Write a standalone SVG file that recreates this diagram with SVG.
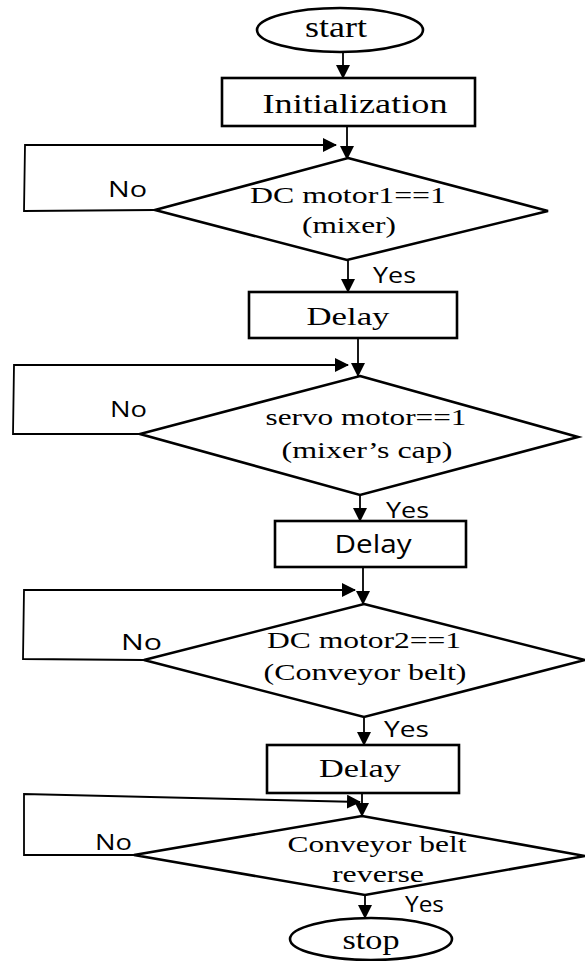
<svg xmlns="http://www.w3.org/2000/svg" width="585" height="961" viewBox="0 0 585 961">
<style>
.sh{fill:#fff;stroke:#000;stroke-width:2.6}
.ln{fill:none;stroke:#000;stroke-width:1.8}
.t{font-family:"Liberation Serif","Times New Roman",serif;fill:#000;text-anchor:middle}
.s{font-family:"Open Sans","Liberation Sans",sans-serif;fill:#000}
</style>
<defs>
<marker id="ah" markerUnits="userSpaceOnUse" markerWidth="14" markerHeight="14" refX="13" refY="7" orient="auto">
<path d="M0,0 L14,7 L0,14 Z" fill="#000"/>
</marker>
</defs>
<rect width="585" height="961" fill="#fff"/>
<g id="connectors">
<line class="ln" x1="343" y1="52" x2="343" y2="78" marker-end="url(#ah)"/>
<line class="ln" x1="347" y1="126" x2="347" y2="159" marker-end="url(#ah)"/>
<polyline class="ln" points="155,210 24,211 25,145 336,145" marker-end="url(#ah)"/>
<line class="ln" x1="348" y1="260" x2="348" y2="292" marker-end="url(#ah)"/>
<line class="ln" x1="358" y1="338" x2="358" y2="376" marker-end="url(#ah)"/>
<polyline class="ln" points="140,434 13,434 14,365 348,365" marker-end="url(#ah)"/>
<line class="ln" x1="360" y1="495" x2="360" y2="521" marker-end="url(#ah)"/>
<line class="ln" x1="363" y1="567" x2="363" y2="604" marker-end="url(#ah)"/>
<polyline class="ln" points="144,660 23,659 24,590 355,590" marker-end="url(#ah)"/>
<line class="ln" x1="364" y1="717" x2="364" y2="745" marker-end="url(#ah)"/>
<line class="ln" x1="362" y1="793" x2="362" y2="816" marker-end="url(#ah)"/>
<polyline class="ln" points="134,855 24,855 24,794 360,802" marker-end="url(#ah)"/>
<line class="ln" x1="365" y1="895" x2="365" y2="918" marker-end="url(#ah)"/>
<text class="s" x="108" y="197" font-size="22" textLength="39" lengthAdjust="spacingAndGlyphs">No</text>
<text class="s" x="373" y="283" font-size="22" textLength="43" lengthAdjust="spacingAndGlyphs">Yes</text>
<text class="s" x="110" y="417" font-size="22" textLength="37" lengthAdjust="spacingAndGlyphs">No</text>
<text class="s" x="386" y="518" font-size="22" textLength="43" lengthAdjust="spacingAndGlyphs">Yes</text>
<text class="s" x="121" y="650" font-size="22" textLength="41" lengthAdjust="spacingAndGlyphs">No</text>
<text class="s" x="384" y="737" font-size="22" textLength="45" lengthAdjust="spacingAndGlyphs">Yes</text>
<text class="s" x="95" y="850" font-size="22" textLength="37" lengthAdjust="spacingAndGlyphs">No</text>
<text class="s" x="405" y="912" font-size="22" textLength="39" lengthAdjust="spacingAndGlyphs">Yes</text>
</g>
<g id="start">
<ellipse class="sh" cx="340" cy="30" rx="83" ry="22"/>
<text class="t" x="336" y="37" font-size="29" textLength="62" lengthAdjust="spacingAndGlyphs">start</text>
</g>
<g id="init">
<rect class="sh" x="222" y="78" width="253" height="48"/>
<text class="t" x="355" y="113" font-size="28" textLength="185" lengthAdjust="spacingAndGlyphs">Initialization</text>
</g>
<g id="dc1">
<polygon class="sh" points="348,158 548,211 347,260 155,210"/>
<text class="t" x="348" y="203" font-size="24" textLength="196" lengthAdjust="spacingAndGlyphs">DC motor1==1</text>
<text class="t" x="349" y="233" font-size="24" textLength="94" lengthAdjust="spacingAndGlyphs">(mixer)</text>
</g>
<g id="delay1">
<rect class="sh" x="249" y="292" width="208" height="46"/>
<text class="t" x="348" y="325" font-size="26" textLength="83" lengthAdjust="spacingAndGlyphs">Delay</text>
</g>
<g id="servo">
<polygon class="sh" points="360,376 578,437 360,495 140,434"/>
<text class="t" x="366" y="425" font-size="24" textLength="201" lengthAdjust="spacingAndGlyphs">servo motor==1</text>
<text class="t" x="367" y="458" font-size="24" textLength="171" lengthAdjust="spacingAndGlyphs">(mixer’s cap)</text>
</g>
<g id="delay2">
<rect class="sh" x="275" y="521" width="191" height="46"/>
<text class="s" x="373" y="553" font-size="25" text-anchor="middle" textLength="77" lengthAdjust="spacingAndGlyphs">Delay</text>
</g>
<g id="dc2">
<polygon class="sh" points="364,604 585,660 364,717 144,660"/>
<text class="t" x="364" y="648" font-size="24" textLength="194" lengthAdjust="spacingAndGlyphs">DC motor2==1</text>
<text class="t" x="365" y="680" font-size="24" textLength="203" lengthAdjust="spacingAndGlyphs">(Conveyor belt)</text>
</g>
<g id="delay3">
<rect class="sh" x="267" y="745" width="192" height="48"/>
<text class="t" x="360" y="777" font-size="26" textLength="82" lengthAdjust="spacingAndGlyphs">Delay</text>
</g>
<g id="reverse">
<polygon class="sh" points="362,816 585,856 365,895 134,855"/>
<text class="t" x="377" y="852" font-size="24" textLength="179" lengthAdjust="spacingAndGlyphs">Conveyor belt</text>
<text class="t" x="378" y="882" font-size="24" textLength="92" lengthAdjust="spacingAndGlyphs">reverse</text>
</g>
<g id="stop">
<ellipse class="sh" cx="371" cy="939" rx="81" ry="21"/>
<text class="t" x="371" y="949" font-size="28" textLength="57" lengthAdjust="spacingAndGlyphs">stop</text>
</g>
</svg>
